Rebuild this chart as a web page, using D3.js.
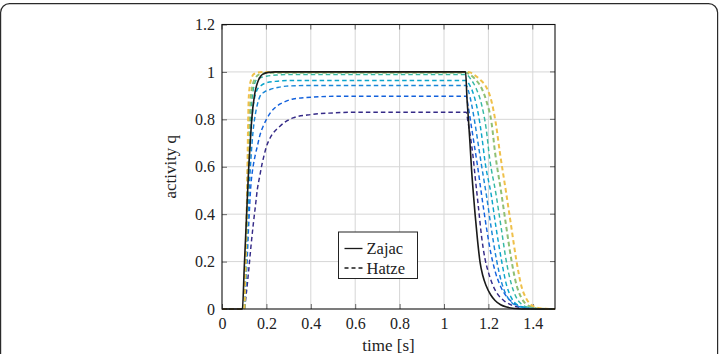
<!DOCTYPE html>
<html>
<head>
<meta charset="utf-8">
<script src="https://cdn.jsdelivr.net/npm/d3@7"></script>
<style>
  body { margin: 0; background: #fff; }
  svg text { font-family: "Liberation Serif", "DejaVu Serif", serif; fill: #222; }
</style>
</head>
<body>
<svg id="chart" width="719" height="354"></svg>
<script>
// tick labels
var xTicks = [0, 0.2, 0.4, 0.6, 0.8, 1, 1.2, 1.4];
var yTicks = [0, 0.2, 0.4, 0.6, 0.8, 1, 1.2];

// Zajac activation, [time, q]
var zajac = [[0,0],[0.092,0],[0.1,0.17],[0.11,0.38],[0.12,0.59],[0.127,0.7],[0.134,0.8],[0.146,0.9],
  [0.155,0.94],[0.164,0.965],[0.175,0.983],[0.19,0.993],[0.21,0.998],[0.24,1],[1.097,1],[1.104,0.88],
  [1.11,0.8],[1.117,0.7],[1.124,0.59],[1.132,0.49],[1.14,0.4],[1.15,0.3],[1.162,0.2],[1.175,0.14],
  [1.189,0.1],[1.21,0.06],[1.23,0.036],[1.255,0.018],[1.282,0.008],[1.32,0.002],[1.35,0],[1.5,0]];

// Hatze activation curves, lowest plateau first
var hatze1 = [[0,0],[0.1,0],[0.11,0.07],[0.12,0.16],[0.13,0.26],[0.14,0.35],[0.15,0.43],[0.16,0.51],
  [0.17,0.56],[0.18,0.61],[0.19,0.65],[0.2,0.685],[0.216,0.72],[0.26,0.77],[0.32,0.806],[0.4,0.82],
  [0.5,0.827],[0.6,0.83],[1.1,0.83],[1.108,0.79],[1.12,0.72],[1.13,0.65],[1.14,0.56],[1.155,0.43],
  [1.17,0.3],[1.185,0.21],[1.2,0.155],[1.22,0.1],[1.24,0.065],[1.27,0.035],[1.305,0.016],[1.35,0.006],
  [1.4,0.002],[1.5,0]];
var hatze2 = [[0,0],[0.1,0],[0.105,0.06],[0.11,0.14],[0.12,0.35],[0.13,0.52],[0.14,0.6],[0.15,0.65],
  [0.16,0.69],[0.17,0.73],[0.185,0.77],[0.2,0.8],[0.22,0.83],[0.246,0.855],[0.28,0.873],[0.32,0.886],
  [0.4,0.893],[0.5,0.897],[1.1,0.897],[1.108,0.86],[1.12,0.79],[1.135,0.7],[1.15,0.61],[1.168,0.49],
  [1.19,0.35],[1.21,0.24],[1.23,0.16],[1.255,0.095],[1.28,0.055],[1.31,0.027],[1.35,0.01],[1.4,0.002],[1.5,0]];
var hatze3 = [[0,0],[0.1,0],[0.105,0.08],[0.11,0.2],[0.12,0.45],[0.13,0.63],[0.14,0.75],[0.15,0.82],
  [0.16,0.865],[0.171,0.897],[0.19,0.915],[0.216,0.926],[0.25,0.934],[0.29,0.94],[0.4,0.943],[1.1,0.943],
  [1.11,0.92],[1.125,0.86],[1.14,0.78],[1.155,0.69],[1.17,0.6],[1.191,0.48],[1.213,0.34],[1.236,0.21],
  [1.26,0.11],[1.28,0.06],[1.3,0.032],[1.34,0.01],[1.39,0.002],[1.5,0]];
var hatze4 = [[0,0],[0.1,0],[0.105,0.1],[0.11,0.25],[0.115,0.42],[0.12,0.56],[0.13,0.75],[0.14,0.85],
  [0.156,0.92],[0.175,0.942],[0.2,0.954],[0.25,0.961],[0.3,0.964],[1.1,0.964],[1.115,0.945],[1.135,0.9],
  [1.155,0.82],[1.17,0.73],[1.185,0.62],[1.213,0.48],[1.235,0.34],[1.258,0.21],[1.282,0.1],[1.302,0.05],
  [1.322,0.024],[1.36,0.007],[1.41,0.001],[1.5,0]];
var hatze5 = [[0,0],[0.1,0],[0.105,0.12],[0.11,0.3],[0.115,0.5],[0.12,0.65],[0.13,0.83],[0.14,0.92],
  [0.156,0.968],[0.18,0.978],[0.2,0.982],[0.25,0.987],[0.3,0.989],[1.1,0.989],[1.12,0.97],[1.145,0.93],
  [1.17,0.86],[1.19,0.76],[1.205,0.64],[1.235,0.48],[1.258,0.34],[1.28,0.205],[1.305,0.1],[1.325,0.05],
  [1.345,0.024],[1.38,0.007],[1.43,0.001],[1.5,0]];
var hatze6 = [[0,0],[0.1,0],[0.105,0.13],[0.11,0.32],[0.115,0.53],[0.12,0.72],[0.126,0.85],[0.135,0.93],
  [0.148,0.97],[0.17,0.99],[0.22,0.996],[0.3,0.997],[1.1,0.997],[1.115,0.99],[1.14,0.97],[1.17,0.93],
  [1.19,0.88],[1.215,0.78],[1.23,0.66],[1.258,0.49],[1.28,0.35],[1.303,0.21],[1.327,0.1],[1.347,0.05],
  [1.365,0.025],[1.4,0.007],[1.44,0.001],[1.5,0]];
var hatze7 = [[0,0],[0.1,0],[0.105,0.15],[0.11,0.35],[0.114,0.55],[0.117,0.75],[0.12,0.88],[0.125,0.94],
  [0.132,0.97],[0.141,0.989],[0.16,0.997],[0.2,1],[1.1,1],[1.118,0.998],[1.132,0.99],[1.162,0.968],
  [1.192,0.933],[1.21,0.89],[1.233,0.785],[1.252,0.658],[1.28,0.49],[1.303,0.347],[1.326,0.205],
  [1.35,0.092],[1.37,0.045],[1.387,0.022],[1.42,0.006],[1.46,0.001],[1.5,0]];

var hatzeCurves = [hatze1, hatze2, hatze3, hatze4, hatze5, hatze6, hatze7];
var hatzeColors = ['#352a87', '#1361dc', '#1886d8', '#0ba5cb', '#35b8a4', '#8fbf74', '#efc04a'];

(function() {
  var svg = d3.select('#chart');

  // outer frame
  svg.append('rect')
    .attr('x', 0.6).attr('y', 3.6)
    .attr('width', 717).attr('height', 370)
    .attr('rx', 9)
    .attr('fill', 'none')
    .attr('stroke', '#2a2a2a')
    .attr('stroke-width', 1.2);

  var pLeft = 222, pRight = 555, pTop = 24.5, pBottom = 309;

  var x = d3.scaleLinear().domain([0, 1.5]).range([pLeft, pRight]);
  var y = d3.scaleLinear().domain([0, 1.2]).range([pBottom, pTop]);

  // grid
  var grid = svg.append('g').attr('stroke', '#d6d6d6').attr('stroke-width', 1);
  grid.selectAll('.gx').data(xTicks.filter(function(d) { return d > 0; })).enter()
    .append('line')
    .attr('x1', function(d) { return x(d); }).attr('x2', function(d) { return x(d); })
    .attr('y1', pTop).attr('y2', pBottom);
  grid.selectAll('.gy').data(yTicks.filter(function(d) { return d > 0 && d < 1.2; })).enter()
    .append('line')
    .attr('y1', function(d) { return y(d); }).attr('y2', function(d) { return y(d); })
    .attr('x1', pLeft).attr('x2', pRight);

  // axes (inner ticks, labels)
  var fmt = function(d) { return String(+d.toFixed(1)); };
  var xAxis = d3.axisBottom(x).tickValues(xTicks).tickSize(-5).tickPadding(9).tickFormat(fmt);
  var yAxis = d3.axisLeft(y).tickValues(yTicks).tickSize(-5).tickPadding(7).tickFormat(fmt);

  var gx = svg.append('g').attr('transform', 'translate(0,' + pBottom + ')').call(xAxis);
  var gy = svg.append('g').attr('transform', 'translate(' + pLeft + ',0)').call(yAxis);
  [gx, gy].forEach(function(g) {
    g.select('.domain').remove();
    g.selectAll('line').attr('stroke', '#666');
    g.selectAll('text').attr('font-size', 16).attr('fill', '#222')
      .style('font-family', '"Liberation Serif", "DejaVu Serif", serif');
  });

  // mirror ticks on top and right
  svg.append('g').selectAll('line').data(xTicks).enter().append('line')
    .attr('x1', function(d) { return x(d); }).attr('x2', function(d) { return x(d); })
    .attr('y1', pTop).attr('y2', pTop + 5).attr('stroke', '#666');
  svg.append('g').selectAll('line').data(yTicks).enter().append('line')
    .attr('y1', function(d) { return y(d); }).attr('y2', function(d) { return y(d); })
    .attr('x1', pRight).attr('x2', pRight - 5).attr('stroke', '#666');

  // curves
  var line = d3.line()
    .x(function(d) { return x(d[0]); })
    .y(function(d) { return y(d[1]); })
    .curve(d3.curveMonotoneX);

  var plot = svg.append('g');
  plot.selectAll('.hatze').data(hatzeCurves).enter()
    .append('path')
    .attr('d', line)
    .attr('fill', 'none')
    .attr('stroke', function(d, i) { return hatzeColors[i]; })
    .attr('stroke-width', function(d, i) { return i >= 5 ? 2 : 1.45; })
    .attr('stroke-dasharray', '4.5,3');

  plot.append('path')
    .datum(zajac)
    .attr('d', line)
    .attr('fill', 'none')
    .attr('stroke', '#1a1a1a')
    .attr('stroke-width', 1.6);

  // plot box
  svg.append('rect')
    .attr('x', pLeft).attr('y', pTop)
    .attr('width', pRight - pLeft).attr('height', pBottom - pTop)
    .attr('fill', 'none').attr('stroke', '#111').attr('stroke-width', 1.1);

  // axis titles
  svg.append('text')
    .attr('x', (pLeft + pRight) / 2).attr('y', 351)
    .attr('text-anchor', 'middle').attr('font-size', 17)
    .text('time [s]');
  svg.append('text')
    .attr('transform', 'translate(176,' + (pTop + pBottom) / 2 + ') rotate(-90)')
    .attr('text-anchor', 'middle').attr('font-size', 17)
    .text('activity q');

  // legend
  var legend = svg.append('g').attr('transform', 'translate(338.5,232)');
  legend.append('rect')
    .attr('width', 79).attr('height', 46.5)
    .attr('fill', '#fff').attr('stroke', '#222').attr('stroke-width', 1);
  var legendItems = [
    { name: 'Zajac', dash: null },
    { name: 'Hatze', dash: '4,3' }
  ];
  legendItems.forEach(function(d, i) {
    var ly = 16.5 + i * 19.5;
    legend.append('line')
      .attr('x1', 6).attr('x2', 24).attr('y1', ly).attr('y2', ly)
      .attr('stroke', '#1a1a1a').attr('stroke-width', 1.3)
      .attr('stroke-dasharray', d.dash);
    legend.append('text')
      .attr('x', 28).attr('y', ly + 5.5)
      .attr('font-size', 16.5)
      .text(d.name);
  });
})();
</script>
</body>
</html>
